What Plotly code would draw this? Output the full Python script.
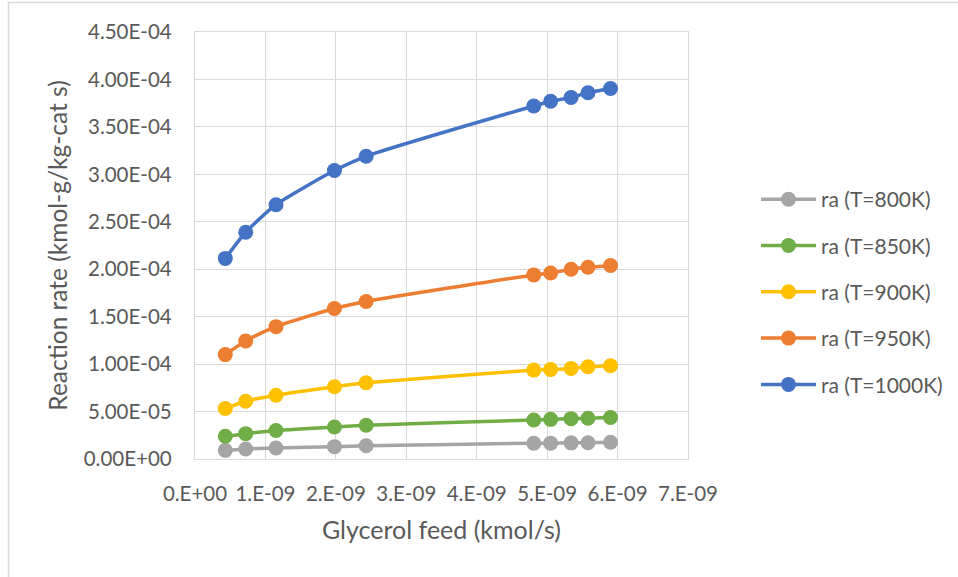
import plotly.graph_objects as go

# ---- data ----
feed = [0.43e-9, 0.72e-9, 1.15e-9, 1.98e-9, 2.43e-9, 4.81e-9, 5.05e-9, 5.34e-9, 5.58e-9, 5.90e-9]

ra_800 = [0.91e-5, 1.06e-5, 1.16e-5, 1.30e-5, 1.40e-5, 1.66e-5, 1.67e-5, 1.70e-5, 1.71e-5, 1.77e-5]
ra_850 = [2.39e-5, 2.67e-5, 3.00e-5, 3.38e-5, 3.55e-5, 4.11e-5, 4.18e-5, 4.25e-5, 4.30e-5, 4.38e-5]
ra_900 = [5.32e-5, 6.09e-5, 6.72e-5, 7.61e-5, 8.03e-5, 9.37e-5, 9.44e-5, 9.55e-5, 9.72e-5, 9.83e-5]
ra_950 = [1.10e-4, 1.243e-4, 1.395e-4, 1.586e-4, 1.66e-4, 1.94e-4, 1.96e-4, 2.00e-4, 2.02e-4, 2.04e-4]
ra_1000 = [2.114e-4, 2.39e-4, 2.68e-4, 3.04e-4, 3.19e-4, 3.72e-4, 3.77e-4, 3.81e-4, 3.86e-4, 3.905e-4]

series_names = ["ra (T=800K)", "ra (T=850K)", "ra (T=900K)", "ra (T=950K)", "ra (T=1000K)"]
series_values = [ra_800, ra_850, ra_900, ra_950, ra_1000]
series_colors = ["#A5A5A5", "#70AD47", "#FFC000", "#ED7D31", "#4472C4"]

x_ticks = [i * 1e-9 for i in range(8)]
y_ticks = [i * 0.5e-4 for i in range(10)]
x_ticktext = [f"{v:#.0E}" for v in x_ticks]
y_ticktext = [f"{v:.2E}" for v in y_ticks]

FONT = "Lato"
TXT = "#595959"
GRID = "#D9D9D9"

W, H = 958, 577
ML, MR, MT, MB = 195, 270, 32, 118
plot_w = W - ML - MR
plot_h = H - MT - MB

fig = go.Figure()
for i, (name, vals, col) in enumerate(zip(series_names, series_values, series_colors)):
    fig.add_trace(go.Scatter(
        x=feed, y=vals, name=name, mode="lines+markers",
        line=dict(color=col, width=3.5, shape="spline", smoothing=0.6),
        marker=dict(color=col, size=15),
        legendgroup=f"g{i}",
    ))

fig.update_layout(
    width=W, height=H,
    margin=dict(l=ML, r=MR, t=MT, b=MB, autoexpand=False),
    paper_bgcolor="white", plot_bgcolor="white",
    font=dict(family=FONT, size=20.5, color=TXT),
    showlegend=True,
    legend=dict(
        x=(756 - ML) / plot_w, xanchor="left", y=0.391, yanchor="middle",
        font=dict(family=FONT, size=21, color=TXT),
        tracegroupgap=16, itemwidth=55, bgcolor="rgba(0,0,0,0)",
    ),
    xaxis=dict(
        range=[0, 7e-9], tickvals=x_ticks, ticktext=x_ticktext,
        showgrid=True, gridcolor=GRID, gridwidth=1.3,
        showline=True, linecolor=GRID, linewidth=1.3, mirror=True,
        zeroline=False, ticks="", ticklabelstandoff=16, automargin=False,
        tickfont=dict(family=FONT, size=20.5, color=TXT),
        title=dict(text="Glycerol feed (kmol/s)", standoff=17,
                   font=dict(family=FONT, size=25, color=TXT)),
    ),
    yaxis=dict(
        range=[0, 4.5e-4], tickvals=y_ticks, ticktext=y_ticktext,
        showgrid=True, gridcolor=GRID, gridwidth=1.3,
        showline=True, linecolor=GRID, linewidth=1.3, mirror=True,
        zeroline=False, ticks="", ticklabelstandoff=18, automargin=False,
        tickfont=dict(family=FONT, size=20.5, color=TXT),
        title=dict(text="Reaction rate (kmol-g/kg-cat s)", standoff=9,
                   font=dict(family=FONT, size=24.5, color=TXT)),
    ),
)

# outer chart border (top and left visible in the reference)
fig.add_shape(type="rect", xref="paper", yref="paper",
              x0=(8.5 - ML) / plot_w, x1=1.7,
              y0=-0.5, y1=(H - MB - 2.5) / plot_h,
              line=dict(color="#D9D9D9", width=1.5), fillcolor="rgba(0,0,0,0)",
              layer="below")

fig.write_html("out.html")
